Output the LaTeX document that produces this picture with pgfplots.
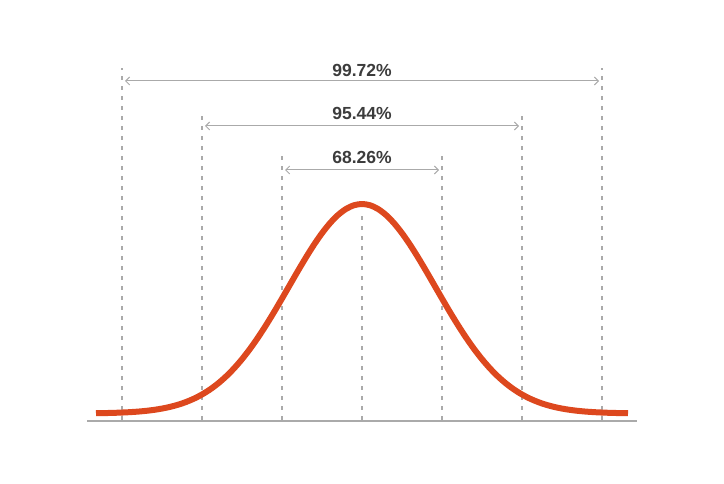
\documentclass[border=0pt]{standalone}
\usepackage{pgfplots}
\pgfplotsset{compat=1.18}
\usepackage{pgfplotstable}
\usetikzlibrary{arrows.meta}
\usepackage{fontspec}
\setmainfont{Liberation Sans}
\definecolor{curvecol}{RGB}{221,72,30}
\definecolor{dashcol}{RGB}{170,170,170}
\definecolor{arrcol}{RGB}{170,170,170}
\definecolor{basecol}{RGB}{170,170,170}
\definecolor{txtcol}{RGB}{60,60,60}

\pgfplotstableread{
x y
96 69.78
106 69.95
114 70.16
122 70.45
130 70.85
138 71.40
146 72.14
154 73.13
162 74.43
170 76.11
178 78.26
186 80.98
194 84.36
202 88.51
210 93.52
218 99.49
226 106.50
234 114.59
242 123.81
250 134.14
258 145.50
266 157.80
274 170.86
282 184.48
290 198.37
298 212.20
306 225.64
314 238.30
322 249.82
330 259.82
338 267.99
346 274.03
354 277.75
362 279.00
370 277.75
378 274.03
386 267.99
394 259.82
402 249.82
410 238.30
418 225.64
426 212.20
434 198.37
442 184.48
450 170.86
458 157.80
466 145.50
474 134.14
482 123.81
490 114.59
498 106.50
506 99.49
514 93.52
522 88.51
530 84.36
538 80.98
546 78.26
554 76.11
562 74.43
570 73.13
578 72.14
586 71.40
594 70.85
602 70.45
610 70.16
618 69.95
628 69.78
}\curvedata

\begin{document}
\begin{tikzpicture}
\useasboundingbox (0,0) rectangle (724pt,483pt);
\begin{axis}[
  at={(0,0)}, anchor=south west,
  width=724pt, height=483pt, scale only axis,
  xmin=0, xmax=724, ymin=0, ymax=483,
  axis lines=none, ticks=none, clip=false,
]
% baseline
\addplot[basecol, line width=2pt] coordinates {(87,62.3) (637,62.3)};
% dashed verticals
\addplot[dashcol, line width=1.2pt, dash pattern=on 4pt off 6pt] coordinates {(122,63) (122,415)};
\addplot[dashcol, line width=1.2pt, dash pattern=on 4pt off 6pt] coordinates {(602,63) (602,415)};
\addplot[dashcol, line width=1.2pt, dash pattern=on 4pt off 6pt] coordinates {(202,63) (202,370)};
\addplot[dashcol, line width=1.2pt, dash pattern=on 4pt off 6pt] coordinates {(522,63) (522,370)};
\addplot[dashcol, line width=1.2pt, dash pattern=on 4pt off 6pt] coordinates {(282,63) (282,328)};
\addplot[dashcol, line width=1.2pt, dash pattern=on 4pt off 6pt] coordinates {(442,63) (442,328)};
\addplot[dashcol, line width=1.2pt, dash pattern=on 4pt off 6pt] coordinates {(362,63) (362,270)};
% arrows
\addplot[arrcol, line width=1pt, {Straight Barb[length=4pt,width=8pt]}-{Straight Barb[length=4pt,width=8pt]}] coordinates {(125,402) (599,402)};
\addplot[arrcol, line width=1pt, {Straight Barb[length=4pt,width=8pt]}-{Straight Barb[length=4pt,width=8pt]}] coordinates {(205,357) (519,357)};
\addplot[arrcol, line width=1pt, {Straight Barb[length=4pt,width=8pt]}-{Straight Barb[length=4pt,width=8pt]}] coordinates {(285,313) (439,313)};
% curve
\addplot[curvecol, line width=6pt, line cap=butt, line join=round, smooth] table[x=x,y=y] {\curvedata};
% labels
\node[txtcol, font=\fontsize{17.5}{20}\selectfont\bfseries] at (axis cs:362,413) {99.72\%};
\node[txtcol, font=\fontsize{17.5}{20}\selectfont\bfseries] at (axis cs:362,370) {95.44\%};
\node[txtcol, font=\fontsize{17.5}{20}\selectfont\bfseries] at (axis cs:362,326) {68.26\%};
\end{axis}
\end{tikzpicture}
\end{document}
